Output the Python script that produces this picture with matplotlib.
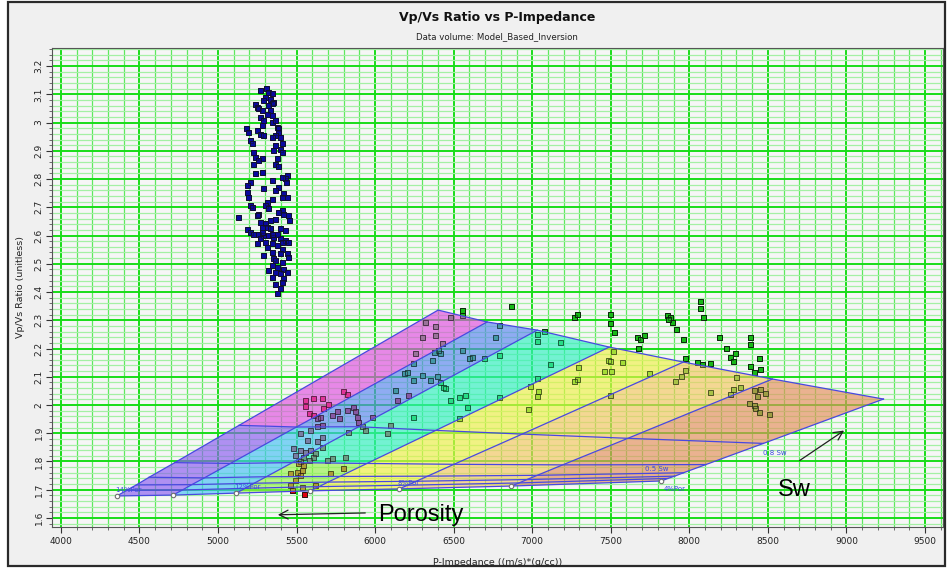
import matplotlib
matplotlib.use("Agg")
import matplotlib.pyplot as plt
from matplotlib.patches import Polygon, Rectangle
from matplotlib.ticker import MultipleLocator

# ---------------- crossplot samples ----------------
navy_ip = [5305, 5267, 5320, 5341, 5299, 5331, 5288, 5352, 5341, 5320, 5235, 5246, 5257, 5278,
           5331, 5310, 5341, 5267, 5288, 5341, 5363, 5278, 5373, 5384, 5178, 5193, 5246, 5267,
           5288, 5384, 5363, 5395, 5341, 5203, 5214, 5405, 5363, 5395, 5225, 5405, 5352, 5235,
           5278, 5257, 5373, 5363, 5384, 5225, 5278, 5235, 5437, 5426, 5405, 5341, 5433, 5203,
           5182, 5288, 5384, 5363, 5416, 5405, 5437, 5182, 5193, 5341, 5310, 5299, 5203, 5214,
           5320, 5405, 5384, 5416, 5448, 5257, 5246, 5454, 5129, 5267, 5299, 5278, 5310, 5331,
           5182, 5203, 5225, 5257, 5288, 5320, 5352, 5395, 5426, 5448, 5405, 5267, 5299, 5246,
           5341, 5373, 5310, 5405, 5341, 5288, 5395, 5437, 5448, 5352, 5363, 5405, 5341, 5373,
           5416, 5320, 5363, 5437, 5395, 5341, 5416, 5405, 5363, 5395, 5373, 5341, 5373, 5278,
           5331, 5363, 5395, 5426]
navy_vpvs = [3.121, 3.115, 3.109, 3.103, 3.091, 3.085, 3.079, 3.073, 3.068, 3.062, 3.065, 3.056,
             3.050, 3.044, 3.044, 3.032, 3.026, 3.020, 3.009, 3.003, 3.009, 2.991, 2.985, 2.979,
             2.979, 2.967, 2.973, 2.961, 2.956, 2.967, 2.956, 2.950, 2.950, 2.938, 2.928, 2.928,
             2.920, 2.908, 2.897, 2.897, 2.902, 2.879, 2.873, 2.867, 2.873, 2.855, 2.846, 2.855,
             2.826, 2.820, 2.814, 2.802, 2.808, 2.796, 2.790, 2.790, 2.779, 2.767, 2.773, 2.761,
             2.749, 2.737, 2.737, 2.755, 2.737, 2.731, 2.720, 2.708, 2.708, 2.702, 2.696, 2.690,
             2.684, 2.678, 2.672, 2.678, 2.672, 2.655, 2.666, 2.649, 2.643, 2.631, 2.631, 2.625,
             2.622, 2.613, 2.607, 2.607, 2.601, 2.601, 2.596, 2.590, 2.584, 2.578, 2.578, 2.590,
             2.578, 2.572, 2.572, 2.566, 2.560, 2.554, 2.543, 2.531, 2.537, 2.539, 2.525, 2.519,
             2.513, 2.507, 2.495, 2.489, 2.483, 2.478, 2.472, 2.472, 2.466, 2.454, 2.448, 2.436,
             2.428, 2.413, 2.397, 2.607, 2.607, 2.613, 2.655, 2.657, 2.625, 2.619]

red_ip = [5554, 5607, 5660, 5554, 5576, 5607, 5629, 5650, 5671, 5697, 5798, 5824, 5724, 5756,
          5767, 5820, 5862, 5873, 5883, 5894, 5915, 5936, 5979, 5660, 5629, 5586, 5522, 5565,
          5629, 5660, 5660, 5480, 5491, 5522, 5554, 5586, 5618, 5607, 5576, 5544, 5522, 5512,
          5830, 6138, 6212, 5459, 5501, 5533, 5544, 5522, 5491, 5459, 5470, 5533, 5618, 5714,
          5692, 5724, 5809, 5798, 6074, 6096, 5548]
red_vpvs = [2.018, 2.024, 2.026, 1.997, 1.971, 1.965, 1.953, 1.959, 1.989, 2.004, 2.048, 2.039,
            1.965, 1.977, 1.953, 1.983, 1.994, 1.977, 1.959, 1.941, 1.924, 1.912, 1.959, 1.930,
            1.924, 1.912, 1.900, 1.876, 1.871, 1.888, 1.853, 1.847, 1.823, 1.841, 1.835, 1.841,
            1.829, 1.817, 1.806, 1.817, 1.800, 1.794, 1.906, 2.018, 2.036, 1.758, 1.764, 1.770,
            1.788, 1.753, 1.735, 1.717, 1.699, 1.711, 1.717, 1.758, 1.806, 1.812, 1.817, 1.776,
            1.900, 1.930, 1.685]

green_ip = [6127, 6181, 6202, 6244, 6297, 6350, 6393, 6414, 6435, 6446, 6361, 6414, 6403, 6372,
            6552, 6595, 6616, 6690, 6786, 6764, 6786, 6786, 6478, 6531, 6573, 6584, 6531, 6244,
            6319, 6382, 6297, 6382, 6425, 6255, 6244, 6478, 6552, 6552,
            6864, 7267, 7284, 7492, 7492, 7518, 7666, 7688, 7713, 7675, 7858, 7879, 7889, 7864,
            7917, 7957, 8070, 8066, 8085, 8187, 8235, 8261, 8276, 7970, 8049, 8080, 8129, 7072,
            7030, 7030, 7174, 7114, 7030, 6983, 7036, 7030, 6976,
            7514, 7480, 7497, 7571, 7289, 7454, 7503, 7284, 7267, 7492, 7745, 7970, 7947, 7906,
            8129, 8261, 8276,
            8388, 8388, 8289, 8442, 8384, 8452, 8410, 8299, 8325, 8410, 8452, 8484, 8431, 8378,
            8410, 8420, 8446, 8509]
green_vpvs = [2.053, 2.112, 2.118, 2.089, 2.107, 2.089, 2.101, 2.083, 2.065, 2.059, 2.160, 2.183,
              2.195, 2.189, 2.195, 2.166, 2.171, 2.166, 2.283, 2.242, 2.177, 2.030, 2.018, 2.030,
              2.036, 1.994, 1.953, 1.959, 2.295, 2.278, 2.242, 2.248, 2.219, 2.183, 2.148, 2.313,
              2.337, 2.319,
              2.350, 2.310, 2.322, 2.322, 2.289, 2.260, 2.242, 2.232, 2.248, 2.203, 2.319, 2.313,
              2.295, 2.304, 2.269, 2.234, 2.369, 2.344, 2.313, 2.239, 2.201, 2.171, 2.157, 2.167,
              2.151, 2.145, 2.150, 2.262,
              2.250, 2.226, 2.224, 2.144, 2.097, 2.068, 2.049, 2.033, 1.985,
              2.191, 2.159, 2.157, 2.151, 2.136, 2.121, 2.121, 2.092, 2.086, 2.035, 2.114, 2.124,
              2.103, 2.086, 2.047, 2.039, 2.055,
              2.242, 2.216, 2.183, 2.165, 2.139, 2.126, 2.116, 2.098, 2.063, 2.053, 2.055, 2.041,
              2.032, 2.008, 2.000, 1.988, 1.976, 1.967]

# ---------------- rock-physics template ----------------
porosity_labels = ["14%Por", "", "12%Por", "", "8%Por", "", "4%Por"]
sw_values = [0.0, 0.2, 0.4, 0.5, 0.6, 0.8, 1.0]
sw_labels = ["", "", "", "0.5 Sw", "", "0.8 Sw", ""]
# node impedance / Vp/Vs, one row per Sw value, one column per porosity
tmpl_ip = [
    [4357, 4713, 5115, 5586, 6153, 6866, 7822],
    [4418, 4773, 5173, 5643, 6207, 6916, 7864],
    [4480, 4833, 5230, 5700, 6262, 6966, 7907],
    [4561, 4913, 5307, 5776, 6334, 7032, 7963],
    [4725, 5079, 5473, 5948, 6502, 7194, 8105],
    [5134, 5499, 5895, 6386, 6936, 7609, 8472],
    [6401, 6713, 7032, 7490, 7962, 8529, 9236],
]
tmpl_vpvs = [
    [1.678, 1.681, 1.688, 1.696, 1.703, 1.713, 1.731],
    [1.698, 1.699, 1.705, 1.711, 1.716, 1.724, 1.740],
    [1.717, 1.718, 1.723, 1.727, 1.730, 1.736, 1.748],
    [1.744, 1.742, 1.746, 1.747, 1.748, 1.751, 1.760],
    [1.796, 1.793, 1.796, 1.793, 1.790, 1.788, 1.789],
    [1.928, 1.922, 1.923, 1.910, 1.897, 1.882, 1.864],
    [2.336, 2.294, 2.265, 2.205, 2.152, 2.092, 2.021],
]
# cell fill colours, bottom Sw interval first, one column per porosity band
cell_colors = [
    ["#8a5cf0", "#44c0f4", "#96f04c", "#f0f040", "#f4c860", "#e08c58"],
    ["#8a5cf0", "#44c0f4", "#96f04c", "#f0f040", "#f4c860", "#e08c58"],
    ["#8a5cf0", "#44c0f4", "#96f04c", "#f0f040", "#f4c860", "#e08c58"],
    ["#8a5cf0", "#44c0f4", "#96f04c", "#f0f040", "#f4c860", "#e08c58"],
    ["#8a5cf0", "#44c0f4", "#30f0c0", "#eef048", "#f4c860", "#e4905c"],
    ["#e050e0", "#5a86f0", "#30f0c0", "#eef048", "#f4c860", "#e4905c"],
]

x_ticks = list(range(4000, 9501, 500))
y_ticks = [1.6, 1.7, 1.8, 1.9, 2.0, 2.1, 2.2, 2.3, 2.4, 2.5, 2.6, 2.7, 2.8, 2.9, 3.0, 3.1, 3.2]
y_tick_labels = ["1.6", "1.7", "1.8", "1.9", "2", "2.1", "2.2", "2.3", "2.4", "2.5", "2.6",
                 "2.7", "2.8", "2.9", "3", "3.1", "3.2"]

# ---------------- figure ----------------
W, H = 947, 572
fig = plt.figure(figsize=(W / 100, H / 100), dpi=100, facecolor="white")
fig.patches.append(Rectangle((8 / W, 6 / H), (945 - 8) / W, (570 - 6) / H,
                             transform=fig.transFigure, facecolor="#f0f0f0",
                             edgecolor="#2a2a2a", linewidth=1.6, zorder=-10))

ax = fig.add_axes([52 / W, (H - 527) / H, (943 - 52) / W, (527 - 48) / H])
ax.set_facecolor("#f6f6f6")
ax.set_xlim(3943, 9615)
ax.set_ylim(1.568, 3.264)

ax.set_xticks(x_ticks)
ax.set_yticks(y_ticks)
ax.set_yticklabels(y_tick_labels, rotation=90, va="center")
ax.xaxis.set_minor_locator(MultipleLocator(100))
ax.yaxis.set_minor_locator(MultipleLocator(0.02))
ax.tick_params(which="major", labelsize=6.5, length=4, color="#333333", labelcolor="#222222")
ax.tick_params(which="minor", length=2, color="#555555")
ax.tick_params(axis="y", pad=2)
for s in ax.spines.values():
    s.set_color("#555555")
    s.set_linewidth(0.8)

ax.set_axisbelow(True)
ax.grid(which="minor", axis="x", color="#5ee85e", linewidth=0.9, zorder=0)
ax.grid(which="minor", axis="y", color="#a4f0a4", linewidth=0.9, zorder=0)
ax.grid(which="major", color="#18dd18", linewidth=1.4, zorder=0)

# samples (drawn beneath the translucent template, outlines repeated on top)
groups = [(navy_ip, navy_vpvs, "#0a0aa0", "#101030"),
          (red_ip, red_vpvs, "#e00010", "#301010"),
          (green_ip, green_vpvs, "#18b818", "#0c280c")]
for xs, ys, face, edge in groups:
    ax.plot(xs, ys, marker="s", linestyle="none", markersize=3.6, markeredgewidth=0.7,
            color=face, markeredgecolor=edge, zorder=2)
    ax.plot(xs, ys, marker="s", linestyle="none", markersize=3.6, markeredgewidth=0.7,
            markerfacecolor="none", markeredgecolor=edge, alpha=0.55, zorder=3.5)

# template cells
n_sw = len(sw_values)
n_por = len(porosity_labels)
for j in range(n_sw - 1):
    for b in range(n_por - 1):
        quad = [(tmpl_ip[j][b], tmpl_vpvs[j][b]), (tmpl_ip[j][b + 1], tmpl_vpvs[j][b + 1]),
                (tmpl_ip[j + 1][b + 1], tmpl_vpvs[j + 1][b + 1]), (tmpl_ip[j + 1][b], tmpl_vpvs[j + 1][b])]
        ax.add_patch(Polygon(quad, closed=True, facecolor=cell_colors[j][b], edgecolor="none",
                             alpha=0.66, zorder=3))

line_kw = dict(color="#4848e0", linewidth=0.9, zorder=4)
for b in range(n_por):
    ax.plot([tmpl_ip[j][b] for j in range(n_sw)], [tmpl_vpvs[j][b] for j in range(n_sw)], **line_kw)
for j in range(n_sw):
    ax.plot(tmpl_ip[j], tmpl_vpvs[j], **line_kw)

ax.plot(tmpl_ip[0], tmpl_vpvs[0], linestyle="none", marker="o", markersize=3.2,
        markerfacecolor="white", markeredgecolor="#707070", markeredgewidth=0.8, zorder=5)

lab_kw = dict(fontsize=5, color="#3a4ae0", zorder=6)
for b, lab in enumerate(porosity_labels):
    if not lab:
        continue
    off = (2, -7) if b == n_por - 1 else (-1, 3)
    ax.annotate(lab, (tmpl_ip[0][b], tmpl_vpvs[0][b]), xytext=off,
                textcoords="offset points", **lab_kw)
sw_offsets = {3: (-28, 1), 5: (0, -8)}
for j, lab in enumerate(sw_labels):
    if lab:
        ax.annotate(lab, (tmpl_ip[j][-1], tmpl_vpvs[j][-1]), xytext=sw_offsets[j],
                    textcoords="offset points", **lab_kw)

# trend arrows
ax.annotate("", xy=(5363, 1.611), xytext=(5955, 1.618),
            arrowprops=dict(arrowstyle="->", color="#202020", lw=0.9, mutation_scale=16), zorder=7)
ax.text(6019, 1.611, "Porosity", fontsize=17, family="Liberation Sans", va="center",
        ha="left", color="black", zorder=7)
ax.annotate("", xy=(9000, 1.915), xytext=(8688, 1.798),
            arrowprops=dict(arrowstyle="->", color="#202020", lw=0.9, mutation_scale=16), zorder=7)
ax.text(8567, 1.699, "Sw", fontsize=17, family="Liberation Sans", va="center",
        ha="left", color="black", zorder=7)

fig.text(497 / W, 1 - 17 / H, "Vp/Vs Ratio vs P-Impedance", ha="center", va="center",
         fontsize=9, fontweight="bold", color="#111111")
fig.text(497 / W, 1 - 37 / H, "Data volume: Model_Based_Inversion", ha="center", va="center",
         fontsize=6.2, color="#222222")
ax.set_xlabel("P-Impedance ((m/s)*(g/cc))", fontsize=6.8, color="#222222", labelpad=8)
ax.set_ylabel("Vp/Vs Ratio (unitless)", fontsize=6.8, color="#222222", labelpad=7)

fig.savefig("out.png", dpi=100, facecolor=fig.get_facecolor())
